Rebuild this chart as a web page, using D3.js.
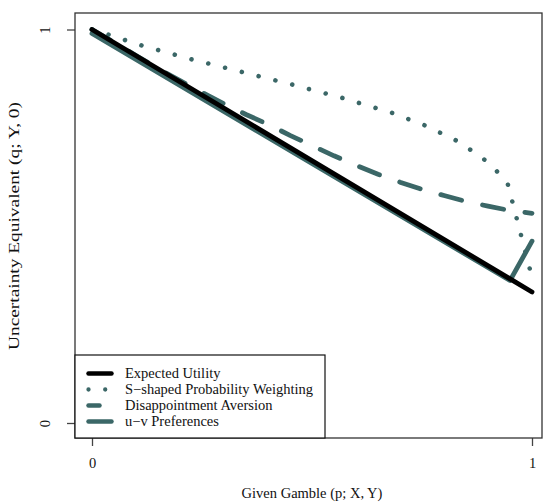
<!DOCTYPE html>
<html>
<head>
<meta charset="utf-8">
<script src="https://cdn.jsdelivr.net/npm/d3@7/dist/d3.min.js"></script>
<style>
  html, body { margin: 0; padding: 0; background: #fff; }
  svg text { font-family: "Liberation Serif", "DejaVu Serif", serif; fill: #111; }
</style>
</head>
<body>
<svg id="chart" width="543" height="504"></svg>
<script>
// Probability of the given gamble (x axis) on a common grid
const pGrid = [0, 0.05, 0.1, 0.15, 0.2, 0.25, 0.3, 0.35, 0.4, 0.45, 0.5,
               0.55, 0.6, 0.65, 0.7, 0.75, 0.8, 0.85, 0.9, 0.95, 1];

// Expected utility: straight line
const euP = [0, 1];
const euQ = [1, 0.333];

// S-shaped probability weighting
const sP = [0, 0.04, 0.114, 0.227, 0.341, 0.455, 0.569, 0.682, 0.755, 0.826, 0.859, 0.89, 0.92, 0.945, 1];
const sQ = [1, 0.986, 0.959, 0.924, 0.892, 0.86, 0.826, 0.788, 0.757, 0.719, 0.695, 0.671, 0.64, 0.607, 0.37];

// Disappointment aversion
const daQ = [1, 0.967, 0.934, 0.901, 0.87, 0.84, 0.811, 0.784, 0.759, 0.731, 0.705,
             0.679, 0.655, 0.632, 0.612, 0.594, 0.578, 0.563, 0.551, 0.54, 0.533];

// u-v preferences
const uvP = [0, 0.95, 1];
const uvQ = [0.99, 0.362, 0.462];

const xTicks = [0, 1];
const yTicks = [0, 1];
const seriesNames = ["Expected Utility", "S\u2212shaped Probability Weighting",
                     "Disappointment Aversion", "u\u2212v Preferences"];

const teal = "#3b6767";

const svg = d3.select("#chart");
const box = { left: 75, top: 13, right: 542, bottom: 438 };

const x = d3.scaleLinear().domain([0, 1]).range([92, 532]);
const y = d3.scaleLinear().domain([0, 1]).range([423, 29.5]);

const line = d3.line().x(d => x(d[0])).y(d => y(d[1]));
const zip = (a, b) => a.map((v, i) => [v, b[i]]);

const plot = svg.append("g");

// Series are layered so the black expected-utility line sits above u-v
plot.append("path")
  .attr("d", line(zip(uvP, uvQ)))
  .attr("fill", "none").attr("stroke", teal).attr("stroke-width", 4.8)
  .attr("stroke-linecap", "round").attr("stroke-linejoin", "round");

plot.append("path")
  .attr("d", line(zip(sP, sQ)))
  .attr("fill", "none").attr("stroke", teal).attr("stroke-width", 4.6)
  .attr("stroke-linecap", "round")
  .attr("stroke-dasharray", "0.01,17.3");

plot.append("path")
  .attr("d", line(zip(pGrid, daQ)))
  .attr("fill", "none").attr("stroke", teal).attr("stroke-width", 4.8)
  .attr("stroke-linecap", "round")
  .attr("stroke-dasharray", "21.5,21.5");

plot.append("path")
  .attr("d", line(zip(euP, euQ)))
  .attr("fill", "none").attr("stroke", "#000").attr("stroke-width", 4.8)
  .attr("stroke-linecap", "round");

// Axes
const xAxis = svg.append("g")
  .attr("transform", `translate(0,${box.bottom})`)
  .call(d3.axisBottom(x).tickValues(xTicks).tickSize(8).tickPadding(12).tickFormat(d3.format("d")));
xAxis.select(".domain").remove();
xAxis.selectAll("line").attr("stroke", "#444").attr("stroke-width", 1.3);
xAxis.selectAll("text").attr("font-size", 14.5).style("font-family", "Liberation Serif, serif");

const yAxis = svg.append("g")
  .attr("transform", `translate(${box.left},0)`)
  .call(d3.axisLeft(y).tickValues(yTicks).tickSize(8).tickFormat(d3.format("d")));
yAxis.select(".domain").remove();
yAxis.selectAll("line").attr("stroke", "#444").attr("stroke-width", 1.3);
yAxis.selectAll("text")
  .attr("x", 0).attr("dy", 0)
  .attr("transform", "translate(-25,0) rotate(-90)")
  .attr("text-anchor", "middle")
  .attr("dominant-baseline", "auto")
  .attr("font-size", 14.5)
  .style("font-family", "Liberation Serif, serif");

// Plot frame
svg.append("rect")
  .attr("x", box.left).attr("y", box.top)
  .attr("width", box.right - box.left).attr("height", box.bottom - box.top)
  .attr("fill", "none").attr("stroke", "#333").attr("stroke-width", 1.3);

// Axis titles
svg.append("text")
  .attr("x", 312).attr("y", 498)
  .attr("text-anchor", "middle").attr("font-size", 14.5)
  .text("Given Gamble (p; X, Y)");

svg.append("text")
  .attr("transform", "translate(19,226) rotate(-90)")
  .attr("text-anchor", "middle").attr("font-size", 14)
  .attr("textLength", 248).attr("lengthAdjust", "spacingAndGlyphs")
  .text("Uncertainty Equivalent (q; Y, 0)");

// Legend
const leg = svg.append("g");
leg.append("rect")
  .attr("x", 75).attr("y", 355).attr("width", 250).attr("height", 83)
  .attr("fill", "#fff").attr("stroke", "#111").attr("stroke-width", 1.2);

const legStyles = [
  { stroke: "#000", dash: null, w: 4.5 },
  { stroke: teal, dash: "0.01,16.7", w: 4.3 },
  { stroke: teal, dash: "11,40", w: 4.5 },
  { stroke: teal, dash: null, w: 4.5 }
];
seriesNames.forEach((name, i) => {
  const cy = 373.5 + i * 16;
  const s = legStyles[i];
  const l = leg.append("line")
    .attr("x1", 88.5).attr("x2", 111.5).attr("y1", cy).attr("y2", cy)
    .attr("stroke", s.stroke).attr("stroke-width", s.w)
    .attr("stroke-linecap", "round");
  if (s.dash) l.attr("stroke-dasharray", s.dash);
  leg.append("text")
    .attr("x", 125).attr("y", cy + 4.5)
    .attr("font-size", 14.5)
    .text(name);
});
</script>
</body>
</html>
